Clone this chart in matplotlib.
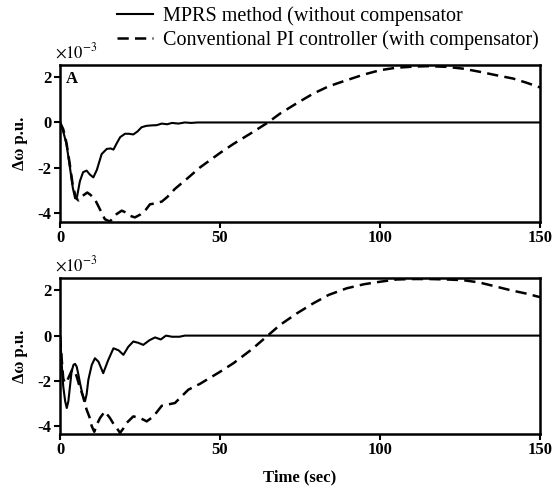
import matplotlib
matplotlib.use("Agg")
import matplotlib.pyplot as plt

plt.rcParams["font.family"] = ["Liberation Serif", "DejaVu Serif"]
plt.rcParams["mathtext.fontset"] = "stix"

# panel A (top)
t_mprs_a = [0, 1, 2, 3, 4, 4.7, 5.3, 6.2, 7.2, 8.3, 9.3, 10.4, 11.5, 13, 14.6, 15.8, 16.7,
            17.8, 18.8, 20.3, 21.5, 22.9, 24.2, 25.5, 27, 28.6, 30.2, 31.8, 33.5, 35, 37,
            39, 41, 43, 150]
y_mprs_a = [0, -0.4, -0.95, -1.9, -2.9, -3.35, -3.3, -2.6, -2.2, -2.13, -2.3, -2.43, -2.1,
            -1.4, -1.17, -1.15, -1.2, -0.9, -0.65, -0.5, -0.5, -0.53, -0.4, -0.21, -0.15,
            -0.13, -0.12, -0.05, -0.08, -0.02, -0.05, 0.0, -0.02, 0, 0]
t_pi_a = [0, 1, 2, 3, 4, 5, 5.8, 7, 8.5, 9.5, 10.9, 12.5, 14, 15.6, 16.7, 17.7, 19.3, 20.5,
          21.9, 23.4, 25, 26.6, 28.1, 29.7, 31.8, 33.5, 35.9, 40, 43.75, 50, 54.2, 60, 65,
          68.75, 74, 79.2, 84, 89.6, 95, 100, 105, 110.4, 115, 120.8, 126, 131.25, 136,
          141.7, 146, 150]
y_pi_a = [0, -0.3, -0.9, -1.8, -2.8, -3.35, -3.45, -3.25, -3.1, -3.2, -3.4, -3.85, -4.28,
          -4.38, -4.2, -4.05, -3.9, -3.98, -4.13, -4.2, -4.08, -3.9, -3.62, -3.58, -3.5,
          -3.3, -2.94, -2.45, -1.99, -1.35, -0.95, -0.45, 0, 0.39, 0.85, 1.28, 1.6, 1.87,
          2.12, 2.31, 2.42, 2.47, 2.49, 2.46, 2.38, 2.24, 2.1, 1.94, 1.75, 1.55]

# panel B (bottom)
t_mprs_b = [0, 0.5, 1.0, 1.6, 2.1, 2.6, 3.1, 3.6, 4.2, 4.7, 5.2, 5.7, 6.25, 7, 7.8, 8.3,
            8.85, 9.9, 10.9, 12, 13.5, 15, 16.7, 18.3, 19.8, 21.3, 22.9, 24.5, 26, 28,
            29.7, 31.5, 33.1, 35, 37.3, 39, 150]
y_mprs_b = [0, -1.2, -2.25, -2.9, -3.2, -2.9, -2.25, -1.6, -1.29, -1.25, -1.37, -1.7, -2.1,
            -2.6, -2.9, -2.6, -1.95, -1.3, -1.0, -1.15, -1.66, -1.1, -0.56, -0.65, -0.85,
            -0.5, -0.26, -0.32, -0.41, -0.2, -0.08, -0.17, 0, -0.05, -0.05, 0, 0]
t_pi_b = [0, 0.5, 1.0, 1.5, 2.2, 3.0, 3.8, 4.6, 5.4, 6.2, 7, 8.3, 9.2, 9.9, 10.7, 11.6,
          12.5, 14, 15.6, 16.7, 17.7, 18.75, 19.8, 20.8, 22.9, 25, 27.1, 29.2, 31.8, 33.5,
          35.9, 40.1, 43.75, 50, 54.2, 60, 64.6, 68.75, 74, 79.2, 84, 89.6, 95, 100, 105.2,
          110, 115.6, 121, 126, 131, 136.5, 141, 146, 150]
y_pi_b = [0, -1.0, -1.9, -2.1, -2.0, -1.75, -1.5, -1.55, -1.9, -2.3, -2.6, -3.27, -3.6,
          -4.0, -4.25, -3.9, -3.64, -3.35, -3.64, -3.9, -4.08, -4.3, -4.1, -3.86, -3.57,
          -3.64, -3.79, -3.57, -3.1, -3.05, -2.98, -2.39, -2.13, -1.6, -1.22, -0.6, -0.04,
          0.47, 0.98, 1.43, 1.8, 2.09, 2.27, 2.38, 2.48, 2.5, 2.5, 2.48, 2.45, 2.35, 2.16,
          2.0, 1.85, 1.7]

labels = ["MPRS method (without compensator", "Conventional PI controller (with compensator)"]

fig = plt.figure(figsize=(5.56, 4.91), dpi=100)
ax1 = fig.add_axes([0.108, 0.548, 0.863, 0.320])
ax2 = fig.add_axes([0.108, 0.116, 0.863, 0.318])

panels = [(ax1, t_mprs_a, y_mprs_a, t_pi_a, y_pi_a, (-4.4, 2.55)),
          (ax2, t_mprs_b, y_mprs_b, t_pi_b, y_pi_b, (-4.35, 2.55))]
for ax, ts, ys, td, yd, ylim in panels:
    ax.plot(ts, ys, color="black", lw=1.5, label=labels[0])
    ax.plot(td, yd, color="black", lw=1.8, dashes=(4.5, 2.5), label=labels[1])
    ax.set_xlim(0, 150)
    ax.set_ylim(*ylim)
    ax.set_xticks([0, 50, 100, 150])
    ax.set_yticks([-4, -2, 0, 2])
    ax.set_yticklabels(["-4", "-2", "0", "2"])
    ax.tick_params(direction="out", length=4, width=1.5, labelsize=12, pad=2)
    for lab in ax.get_xticklabels() + ax.get_yticklabels():
        lab.set_fontweight("bold")
    for s in ax.spines.values():
        s.set_linewidth(1.8)
    ax.set_ylabel("Δω p.u.", fontsize=12, fontweight="bold", labelpad=7)
    ax.text(-0.01, 1.02, r"$\times10^{-3}$", transform=ax.transAxes, fontsize=12,
            ha="left", va="bottom")

ax1.text(0.012, 0.96, "A", transform=ax1.transAxes, fontsize=12, fontweight="bold",
         ha="left", va="top")
ax2.set_xlabel("Time (sec)", fontsize=12, fontweight="bold", labelpad=8)

h, l = ax1.get_legend_handles_labels()
fig.legend(h, l, loc="upper left", bbox_to_anchor=(0.21, 0.987), frameon=False,
           fontsize=14.5, handlelength=1.8, handletextpad=0.5, labelspacing=0.2,
           borderaxespad=0, borderpad=0)

fig.savefig("out.png", dpi=100)
